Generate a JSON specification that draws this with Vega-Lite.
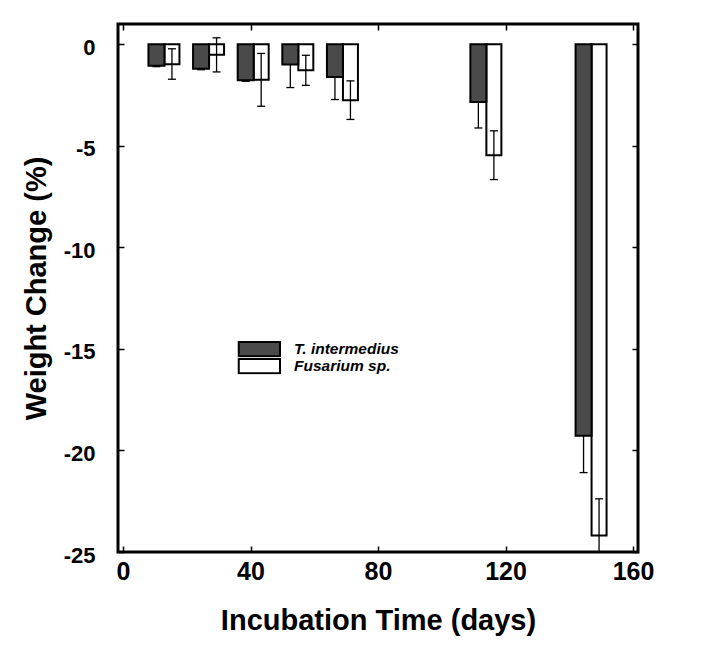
{
  "$schema": "https://vega.github.io/schema/vega-lite/v6.json",
  "width": 520,
  "height": 528,
  "autosize": {"type": "none"},
  "padding": {"left": 118, "top": 24, "right": 76, "bottom": 93},
  "background": "white",
  "config": {
    "font": "Liberation Sans",
    "view": {"stroke": "black", "strokeWidth": 3},
    "axis": {
      "domain": false,
      "grid": false,
      "tickColor": "black",
      "tickWidth": 1.5,
      "tickSize": -6,
      "labelFont": "Liberation Sans",
      "labelFontWeight": "bold",
      "labelColor": "black",
      "labelExpr": "toString(datum.value)",
      "titleFont": "Liberation Sans",
      "titleFontWeight": "bold",
      "titleColor": "black"
    }
  },
  "data": {
    "values": [
      {"day": 13, "species": "T. intermedius", "mean": -1.05, "lo": -1.1, "hi": -1.05},
      {"day": 27, "species": "T. intermedius", "mean": -1.2, "lo": -1.25, "hi": -1.2},
      {"day": 41, "species": "T. intermedius", "mean": -1.77, "lo": -1.82, "hi": -1.77},
      {"day": 55, "species": "T. intermedius", "mean": -1.0, "lo": -2.13, "hi": -1.0},
      {"day": 69, "species": "T. intermedius", "mean": -1.61, "lo": -2.72, "hi": -1.61},
      {"day": 114, "species": "T. intermedius", "mean": -2.84, "lo": -4.12, "hi": -2.84},
      {"day": 147, "species": "T. intermedius", "mean": -19.28, "lo": -21.09, "hi": -19.28},
      {"day": 13, "species": "Fusarium sp.", "mean": -0.98, "lo": -1.72, "hi": -0.22},
      {"day": 27, "species": "Fusarium sp.", "mean": -0.52, "lo": -1.36, "hi": 0.32},
      {"day": 41, "species": "Fusarium sp.", "mean": -1.75, "lo": -3.05, "hi": -0.45},
      {"day": 55, "species": "Fusarium sp.", "mean": -1.28, "lo": -2.02, "hi": -0.54},
      {"day": 69, "species": "Fusarium sp.", "mean": -2.75, "lo": -3.7, "hi": -1.8},
      {"day": 114, "species": "Fusarium sp.", "mean": -5.46, "lo": -6.66, "hi": -4.26},
      {"day": 147, "species": "Fusarium sp.", "mean": -24.19, "lo": -26.0, "hi": -22.38}
    ]
  },
  "layer": [
    {
      "transform": [{"filter": "datum.species === 'Fusarium sp.'"}],
      "mark": {"type": "bar", "orient": "vertical", "width": 15, "xOffset": 7.5, "stroke": "black", "strokeWidth": 2, "opacity": 1},
      "encoding": {
        "x": {
          "field": "day", "type": "quantitative",
          "scale": {"domain": [0, 160], "nice": false, "zero": false},
          "axis": {"orient": "bottom", "values": [0, 40, 80, 120, 160], "title": "Incubation Time (days)", "labelFontSize": 25, "labelPadding": 13, "titleFontSize": 29, "titlePadding": 22}
        },
        "y": {
          "field": "mean", "type": "quantitative",
          "scale": {"domain": [-25, 1], "nice": false},
          "axis": {"orient": "left", "values": [0, -5, -10, -15, -20, -25], "title": "Weight Change (%)", "labelFontSize": 22, "labelPadding": 29, "labelOffset": 3, "titleFontSize": 29, "titlePadding": 12}
        },
        "fill": {
          "field": "species", "type": "nominal",
          "scale": {"domain": ["T. intermedius", "Fusarium sp."], "range": ["#4a4a4a", "white"]},
          "legend": {
            "orient": "none", "legendX": 119, "legendY": 317, "title": null, "padding": 0,
            "symbolType": "M-0.9,-0.95H4.6V0.95H-0.9Z", "symbolSize": 225,
            "symbolStrokeColor": "black", "symbolStrokeWidth": 2,
            "labelFont": "Liberation Sans", "labelFontSize": 15.5, "labelFontWeight": "bold", "labelFontStyle": "italic",
            "labelColor": "black", "labelOffset": 40, "rowPadding": 0, "clipHeight": 16
          }
        }
      }
    },
    {
      "transform": [{"filter": "datum.species === 'Fusarium sp.'"}],
      "mark": {"type": "rule", "xOffset": 7.5, "strokeWidth": 1.3, "color": "black", "clip": true},
      "encoding": {
        "x": {"field": "day", "type": "quantitative", "scale": {"domain": [0, 160], "nice": false, "zero": false}, "axis": null},
        "y": {"field": "lo", "type": "quantitative", "scale": {"domain": [-25, 1], "nice": false}, "axis": null},
        "y2": {"field": "hi"}
      }
    },
    {
      "transform": [
        {"filter": "datum.species === 'Fusarium sp.'"},
        {"fold": ["lo", "hi"], "as": ["k", "v"]}
      ],
      "mark": {"type": "point", "shape": "M-1,0H1", "size": 64, "filled": false, "stroke": "black", "strokeWidth": 1.3, "opacity": 1, "xOffset": 7.5, "clip": true},
      "encoding": {
        "x": {"field": "day", "type": "quantitative", "scale": {"domain": [0, 160], "nice": false, "zero": false}, "axis": null},
        "y": {"field": "v", "type": "quantitative", "scale": {"domain": [-25, 1], "nice": false}, "axis": null}
      }
    },
    {
      "transform": [{"filter": "datum.species === 'T. intermedius'"}],
      "mark": {"type": "rule", "xOffset": -8, "strokeWidth": 1.3, "color": "black", "clip": true},
      "encoding": {
        "x": {"field": "day", "type": "quantitative", "scale": {"domain": [0, 160], "nice": false, "zero": false}, "axis": null},
        "y": {"field": "lo", "type": "quantitative", "scale": {"domain": [-25, 1], "nice": false}, "axis": null},
        "y2": {"field": "hi"}
      }
    },
    {
      "transform": [{"filter": "datum.species === 'T. intermedius'"}],
      "mark": {"type": "point", "shape": "M-1,0H1", "size": 64, "filled": false, "stroke": "black", "strokeWidth": 1.3, "opacity": 1, "xOffset": -8, "clip": true},
      "encoding": {
        "x": {"field": "day", "type": "quantitative", "scale": {"domain": [0, 160], "nice": false, "zero": false}, "axis": null},
        "y": {"field": "lo", "type": "quantitative", "scale": {"domain": [-25, 1], "nice": false}, "axis": null}
      }
    },
    {
      "transform": [{"filter": "datum.species === 'T. intermedius'"}],
      "mark": {"type": "bar", "orient": "vertical", "width": 16, "xOffset": -8, "stroke": "black", "strokeWidth": 2, "opacity": 1},
      "encoding": {
        "x": {
          "field": "day", "type": "quantitative",
          "scale": {"domain": [0, 160], "nice": false, "zero": false},
          "axis": {"orient": "top", "values": [0, 40, 80, 120, 160], "labels": false, "title": null}
        },
        "y": {
          "field": "mean", "type": "quantitative",
          "scale": {"domain": [-25, 1], "nice": false},
          "axis": {"orient": "right", "values": [0, -5, -10, -15, -20, -25], "labels": false, "title": null}
        },
        "fill": {"field": "species", "type": "nominal", "scale": {"domain": ["T. intermedius", "Fusarium sp."], "range": ["#4a4a4a", "white"]}}
      }
    }
  ],
  "resolve": {"axis": {"x": "independent", "y": "independent"}}
}
